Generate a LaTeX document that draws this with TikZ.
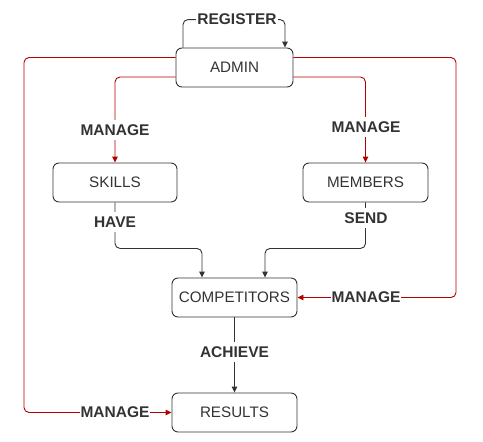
\documentclass[tikz,border=0pt]{standalone}
\usepackage{fontspec}
\setmainfont{Liberation Sans}
\usetikzlibrary{arrows.meta}
\definecolor{redline}{HTML}{B20000}
\definecolor{txt}{HTML}{333333}
\begin{document}
\begin{tikzpicture}[x=1pt,y=-1pt,
  box/.style={draw=txt, line width=0.9pt, rounded corners=6pt, minimum height=39pt, inner sep=0pt,
    font=\fontsize{15.2}{17}\selectfont, text=txt},
  lbl/.style={fill=white, font=\bfseries\fontsize{15.5}{17}\selectfont, text=txt, inner xsep=1pt, inner ysep=5pt},
  conn/.style={draw=txt, line width=0.9pt, rounded corners=5pt, -{Triangle[length=6pt,width=5.5pt]}},
  rconn/.style={conn, draw=redline, -{Triangle[length=6pt,width=5.5pt,fill=redline]}}]
\useasboundingbox (0,0) rectangle (483,442);
\node[box, minimum width=117pt] (admin) at (234.5,67.5) {ADMIN};
\node[box, minimum width=124pt] (skills) at (115,182.5) {SKILLS};
\node[box, minimum width=125pt] (members) at (365.5,182.5) {MEMBERS};
\node[box, minimum width=125pt] (comp) at (234.5,297.5) {COMPETITORS};
\node[box, minimum width=125pt] (results) at (234.5,412.5) {RESULTS};
\coordinate (lc) at (24,412.5);
\coordinate (rc) at (456,297.5);
% register loop
\draw[conn] ([xshift=-51.5pt]admin.north) -- ++(0,-28) -| ([xshift=50.5pt]admin.north);
\node[lbl, inner ysep=1pt] (lreg) at (237,19) {REGISTER};
% red manage lines
\draw[rconn] ([yshift=10pt]admin.west) -| (lc) -- (results.west);
\draw[rconn] ([yshift=-9.5pt]admin.west) -| (skills.north);
\draw[rconn] ([yshift=-9.5pt]admin.east) -| (members.north);
\draw[rconn] ([yshift=10pt]admin.east) -| (rc) -- (comp.east);
\node[lbl] (lm1) at (115,130) {MANAGE};
\node[lbl] (lm2) at (366,127) {MANAGE};
\node[lbl] (lm3) at (366,297.5) {MANAGE};
\node[lbl] (lm4) at (115,412.5) {MANAGE};
% black lines
\draw[conn] (skills.south) -- ++(0,46) -| ([xshift=-32.5pt]comp.north);
\draw[conn] (members.south) -- ++(0,46) -| ([xshift=30.5pt]comp.north);
\draw[conn] (comp.south) -- (results.north);
\node[lbl] (lhave) at (115,222) {HAVE};
\node[lbl] (lsend) at (366,218) {SEND};
\node[lbl] (lach) at (234.5,352) {ACHIEVE};
\end{tikzpicture}
\end{document}
